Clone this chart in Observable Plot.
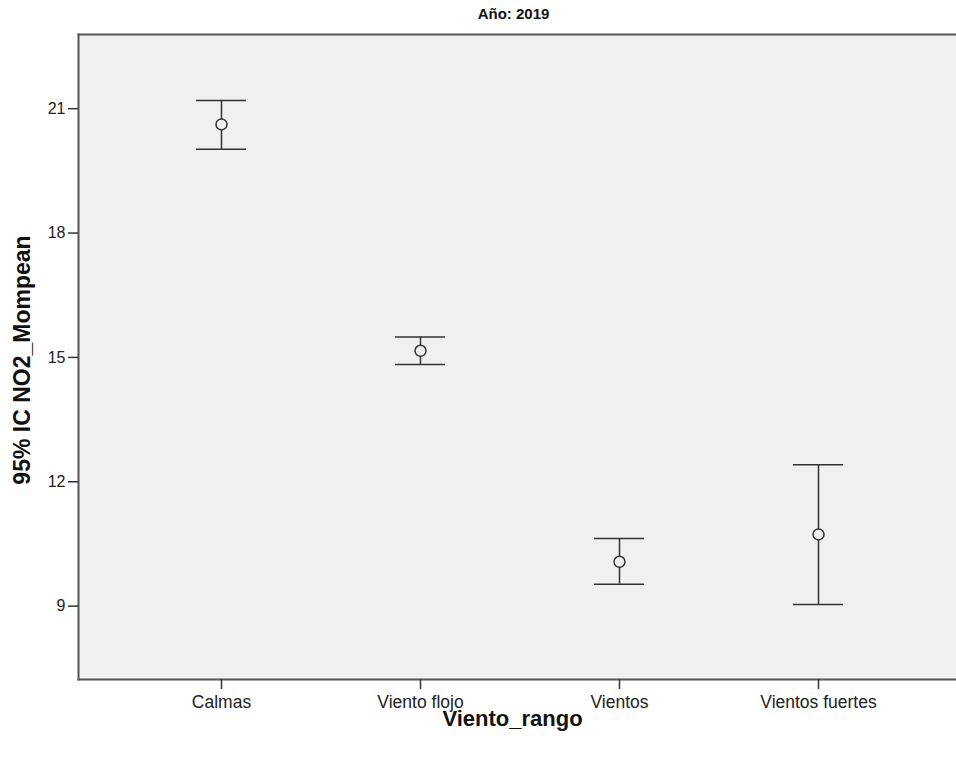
<!DOCTYPE html>
<html><head><meta charset="utf-8">
<script src="https://cdn.jsdelivr.net/npm/d3@7"></script>
<script src="https://cdn.jsdelivr.net/npm/@observablehq/plot@0.6"></script>
<style>body{margin:0;background:#fff;} svg{display:block;}</style>
</head><body><div id="chart"></div>
<script>
const categories = ["Calmas", "Viento flojo", "Vientos", "Vientos fuertes"];
const means = [20.62, 15.16, 10.07, 10.73];
const lower = [20.02, 14.83, 9.53, 9.04];
const upper = [21.20, 15.49, 10.63, 12.41];
const yTicks = [9, 12, 15, 18, 21];
const yDomain = [7.23, 22.79];
const title = "Año: 2019";
const yLabel = "95% IC NO2_Mompean";
const xLabel = "Viento_rango";

const data = categories.map((c, i) => ({cat: c, mean: means[i], lo: lower[i], hi: upper[i]}));
const ink = "#333";
const font = "Liberation Sans, Arial, sans-serif";

const chart = Plot.plot({
  width: 956, height: 758,
  marginTop: 34, marginBottom: 79, marginLeft: 78, marginRight: 0,
  style: {fontFamily: font, background: "#fff"},
  x: {type: "band", domain: categories, range: [121.5, 918], paddingInner: 0.75, paddingOuter: 0.375},
  y: {domain: yDomain},
  marks: [
    Plot.frame({fill: "#f0f0f0", stroke: null}),
    Plot.frame({anchor: "left", stroke: "#555", strokeWidth: 2}),
    Plot.frame({anchor: "top", stroke: "#555", strokeWidth: 2}),
    Plot.frame({anchor: "bottom", stroke: "#555", strokeWidth: 2}),
    Plot.axisY({ticks: yTicks, tickSize: 10, tickPadding: 3, fontSize: 16, label: null, stroke: ink, strokeWidth: 1.5, fill: "#222"}),
    Plot.axisX({tickSize: 10, tickPadding: 6.5, fontSize: 17.5, label: null, stroke: ink, strokeWidth: 1.5, fill: "#222"}),
    Plot.ruleX(data, {x: "cat", y1: "lo", y2: "hi", stroke: ink, strokeWidth: 1.5}),
    Plot.tickY(data, {x: "cat", y: "hi", stroke: ink, strokeWidth: 1.5}),
    Plot.tickY(data, {x: "cat", y: "lo", stroke: ink, strokeWidth: 1.5}),
    Plot.dot(data, {x: "cat", y: "mean", r: 5.5, stroke: ink, fill: "#f0f0f0", strokeWidth: 1.5}),
    Plot.text([title], {frameAnchor: "top", lineAnchor: "middle", dy: -20, dx: -4, text: d => d, fontSize: 15, fontWeight: "bold", fill: "#111"}),
    Plot.text([xLabel], {frameAnchor: "bottom", lineAnchor: "middle", dy: 39, dx: -5, text: d => d, fontSize: 22, fontWeight: "bold", fill: "#111"}),
    Plot.text([yLabel], {frameAnchor: "left", textAnchor: "middle", lineAnchor: "middle", dx: -56, dy: 3, rotate: -90, text: d => d, fontSize: 23, fontWeight: "bold", fill: "#111"})
  ]
});
document.getElementById("chart").appendChild(chart);
</script>
</body></html>
